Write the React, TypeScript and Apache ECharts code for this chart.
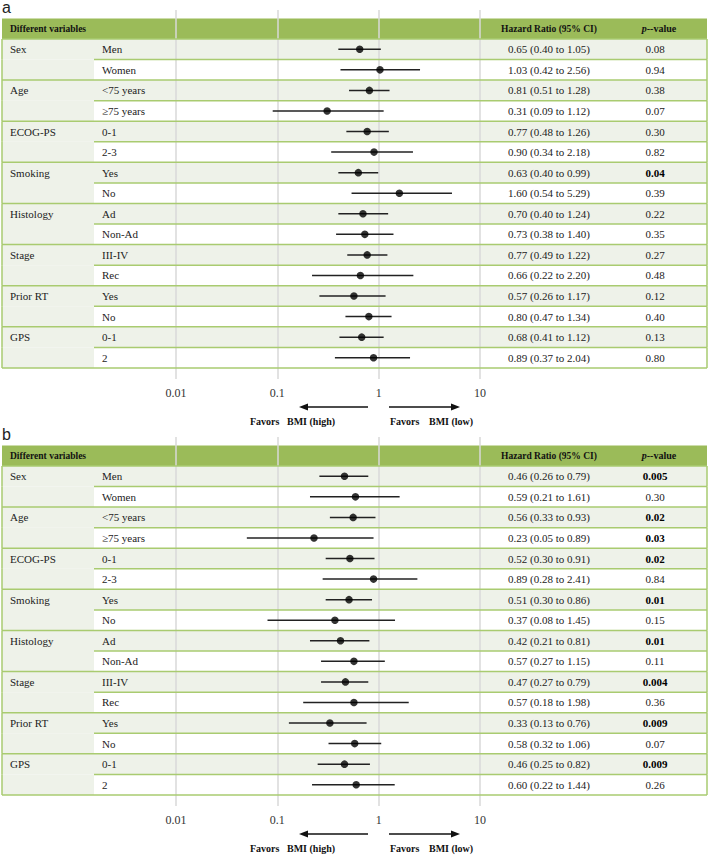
import React, { useEffect, useRef } from "react";
import * as echarts from "echarts";

// ---------- data ----------
const groups = ["Sex", "Age", "ECOG-PS", "Smoking", "Histology", "Stage", "Prior RT", "GPS"];
const subgroups = ["Men", "Women", "<75 years", "≥75 years", "0-1", "2-3", "Yes", "No", "Ad", "Non-Ad", "III-IV", "Rec", "Yes", "No", "0-1", "2"];

const hrA = [0.65, 1.03, 0.81, 0.31, 0.77, 0.90, 0.63, 1.60, 0.70, 0.73, 0.77, 0.66, 0.57, 0.80, 0.68, 0.89];
const lowA = [0.40, 0.42, 0.51, 0.09, 0.48, 0.34, 0.40, 0.54, 0.40, 0.38, 0.49, 0.22, 0.26, 0.47, 0.41, 0.37];
const highA = [1.05, 2.56, 1.28, 1.12, 1.26, 2.18, 0.99, 5.29, 1.24, 1.40, 1.22, 2.20, 1.17, 1.34, 1.12, 2.04];
const pA = ["0.08", "0.94", "0.38", "0.07", "0.30", "0.82", "0.04", "0.39", "0.22", "0.35", "0.27", "0.48", "0.12", "0.40", "0.13", "0.80"];

const hrB = [0.46, 0.59, 0.56, 0.23, 0.52, 0.89, 0.51, 0.37, 0.42, 0.57, 0.47, 0.57, 0.33, 0.58, 0.46, 0.60];
const lowB = [0.26, 0.21, 0.33, 0.05, 0.30, 0.28, 0.30, 0.08, 0.21, 0.27, 0.27, 0.18, 0.13, 0.32, 0.25, 0.22];
const highB = [0.79, 1.61, 0.93, 0.89, 0.91, 2.41, 0.86, 1.45, 0.81, 1.15, 0.79, 1.98, 0.76, 1.06, 0.82, 1.44];
const pB = ["0.005", "0.30", "0.02", "0.03", "0.02", "0.84", "0.01", "0.15", "0.01", "0.11", "0.004", "0.36", "0.009", "0.07", "0.009", "0.26"];

const tickValues = [0.01, 0.1, 1, 10];
const tickLabels = ["0.01", "0.1", "1", "10"];
const headerLabels = ["Different variables", "Hazard Ratio (95% CI)", "p--value"];
const panelLabels = ["a", "b"];
const favorWords = ["Favors", "BMI (high)", "Favors", "BMI (low)"];

// ---------- layout ----------
const TABLE_L = 2;
const TABLE_R = 707;
const SUB_X = 94;
const PLOT_L = 176;
const PLOT_R = 480;
const HR_CX = 549;
const P_CX = 657;
const ROW_H = 20.5625;
const PANEL_DY = 427;
const GRID_TOP = 10;
const Y_MIN = -1.41;
const Y_MAX = 16.535;
const GRID_H = (Y_MAX - Y_MIN) * ROW_H;

const GREEN = "#9BBB59";
const LINE_GREEN = "#A9CB70";
const LIGHT = "#EEF2E9";
const GRID_GREY = "#D9D9D9";
const SERIF = "'Liberation Serif', 'Times New Roman', serif";
const TXT = "#222";

type Panel = { hr: number[]; low: number[]; high: number[]; p: string[] };
const panels: Panel[] = [
  { hr: hrA, low: lowA, high: highA, p: pA },
  { hr: hrB, low: lowB, high: highB, p: pB },
];

const fmt = (v: number) => v.toFixed(2);

function groupOf(i: number) {
  return Math.floor(i / 2);
}

function buildPanel(k: number, d: Panel) {
  const rows = subgroups.map((_, i) => i);
  const bgData = [-1, ...rows].map((i) => [1, i]);

  const bgSeries = {
    type: "custom",
    xAxisIndex: k,
    yAxisIndex: k,
    z: 0,
    silent: true,
    data: bgData,
    renderItem: (params: any, api: any) => {
      const i = api.value(1);
      const top = api.coord([1, i])[1];
      const bot = api.coord([1, i + 1])[1];
      if (i < 0) {
        return {
          type: "rect",
          shape: { x: TABLE_L, y: top, width: TABLE_R - TABLE_L, height: bot - top },
          style: { fill: GREEN },
        };
      }
      return {
        type: "group",
        children: [
          { type: "rect", shape: { x: TABLE_L, y: top, width: SUB_X - TABLE_L, height: bot - top }, style: { fill: LIGHT } },
          {
            type: "rect",
            shape: { x: SUB_X, y: top, width: TABLE_R - SUB_X, height: bot - top },
            style: { fill: i % 2 === 0 ? LIGHT : "#ffffff" },
          },
        ],
      };
    },
  };

  const overlaySeries = {
    type: "custom",
    xAxisIndex: k,
    yAxisIndex: k,
    z: 3,
    silent: true,
    data: bgData,
    renderItem: (params: any, api: any) => {
      const i = api.value(1);
      const top = api.coord([1, i])[1];
      const bot = api.coord([1, i + 1])[1];
      const mid = (top + bot) / 2;
      const children: any[] = [];
      if (i < 0) {
        children.push({
          type: "text",
          style: { text: headerLabels[0], x: 10, y: mid, align: "left", verticalAlign: "middle", fill: "#111", fontFamily: SERIF, fontSize: 9.5, fontWeight: "bold" },
        });
        children.push({
          type: "text",
          style: { text: headerLabels[1], x: HR_CX, y: mid, align: "center", verticalAlign: "middle", fill: "#111", fontFamily: SERIF, fontSize: 9.5, fontWeight: "bold" },
        });
        children.push({
          type: "text",
          style: {
            text: "{i|" + headerLabels[2].slice(0, 1) + "}{n|" + headerLabels[2].slice(1) + "}",
            x: P_CX + 2,
            y: mid,
            align: "center",
            verticalAlign: "middle",
            fill: "#111",
            fontFamily: SERIF,
            fontSize: 10,
            fontWeight: "bold",
            rich: {
              i: { fontFamily: SERIF, fontSize: 10, fontWeight: "bold", fontStyle: "italic", fill: "#111" },
              n: { fontFamily: SERIF, fontSize: 10, fontWeight: "bold", fill: "#111" },
            },
          },
        });
        return { type: "group", children };
      }
      const first = i % 2 === 0;
      children.push({
        type: "line",
        shape: { x1: first ? TABLE_L : SUB_X, y1: top, x2: TABLE_R, y2: top },
        style: { stroke: LINE_GREEN, lineWidth: 1.5 },
      });
      if (i === subgroups.length - 1) {
        children.push({
          type: "line",
          shape: { x1: TABLE_L, y1: bot, x2: TABLE_R, y2: bot },
          style: { stroke: LINE_GREEN, lineWidth: 1.5 },
        });
      }
      children.push({ type: "line", shape: { x1: TABLE_L, y1: top, x2: TABLE_L, y2: bot }, style: { stroke: LINE_GREEN, lineWidth: 1.5 } });
      children.push({ type: "line", shape: { x1: TABLE_R, y1: top, x2: TABLE_R, y2: bot }, style: { stroke: LINE_GREEN, lineWidth: 1.5 } });
      if (first) {
        children.push({
          type: "text",
          style: { text: groups[groupOf(i)], x: 10, y: mid, align: "left", verticalAlign: "middle", fill: TXT, fontFamily: SERIF, fontSize: 11 },
        });
      }
      children.push({
        type: "text",
        style: { text: subgroups[i], x: 102, y: mid, align: "left", verticalAlign: "middle", fill: TXT, fontFamily: SERIF, fontSize: 11 },
      });
      children.push({
        type: "text",
        style: {
          text: `${fmt(d.hr[i])} (${fmt(d.low[i])} to ${fmt(d.high[i])})`,
          x: HR_CX,
          y: mid,
          align: "center",
          verticalAlign: "middle",
          fill: TXT,
          fontFamily: SERIF,
          fontSize: 11,
        },
      });
      const sig = parseFloat(d.p[i]) < 0.05;
      children.push({
        type: "text",
        style: {
          text: d.p[i],
          x: P_CX - 2,
          y: mid,
          align: "center",
          verticalAlign: "middle",
          fill: sig ? "#000" : TXT,
          fontFamily: SERIF,
          fontSize: 11,
          fontWeight: sig ? "bold" : "normal",
        },
      });
      return { type: "group", children };
    },
  };

  const ciSeries = {
    type: "custom",
    xAxisIndex: k,
    yAxisIndex: k,
    z: 4,
    silent: true,
    encode: { x: [0, 1], y: 2 },
    data: rows.map((i) => [d.low[i], d.high[i], i + 0.5]),
    renderItem: (params: any, api: any) => {
      const a = api.coord([api.value(0), api.value(2)]);
      const b = api.coord([api.value(1), api.value(2)]);
      return {
        type: "line",
        shape: { x1: a[0], y1: a[1], x2: b[0], y2: b[1] },
        style: { stroke: "#222", lineWidth: 1.5 },
      };
    },
  };

  const pointSeries = {
    type: "scatter",
    xAxisIndex: k,
    yAxisIndex: k,
    z: 5,
    silent: true,
    symbol: "circle",
    symbolSize: 7.5,
    itemStyle: { color: "#000" },
    data: rows.map((i) => [d.hr[i], i + 0.5]),
  };

  const grid = {
    left: PLOT_L,
    width: PLOT_R - PLOT_L,
    top: GRID_TOP + k * PANEL_DY,
    height: GRID_H,
    containLabel: false,
  };

  const xAxis = {
    gridIndex: k,
    type: "log",
    logBase: 10,
    min: tickValues[0],
    max: tickValues[tickValues.length - 1],
    z: 1,
    axisLine: { show: false },
    axisTick: { show: false },
    splitLine: { show: true, lineStyle: { color: GRID_GREY, width: 1.5 } },
    axisLabel: {
      margin: 8,
      fontFamily: SERIF,
      fontSize: 12,
      color: "#333",
      formatter: (v: number) => {
        const idx = tickValues.findIndex((t) => Math.abs(Math.log10(t) - Math.log10(v)) < 1e-6);
        return idx >= 0 ? tickLabels[idx] : "";
      },
    },
  };

  const yAxis = {
    gridIndex: k,
    type: "value",
    min: Y_MIN,
    max: Y_MAX,
    inverse: true,
    show: false,
  };

  return { grid, xAxis, yAxis, series: [bgSeries, overlaySeries, ciSeries, pointSeries] };
}

function buildGraphics() {
  const g: any[] = [];
  for (let k = 0; k < 2; k++) {
    const dy = k * PANEL_DY;
    g.push({
      type: "text",
      x: 2,
      y: 7 + dy,
      style: { text: panelLabels[k], fill: "#222", fontFamily: "'Liberation Sans', Arial, sans-serif", fontSize: 16, align: "left", verticalAlign: "middle" },
    });
    const ay = 407 + dy;
    g.push({ type: "line", shape: { x1: 306, y1: ay, x2: 368, y2: ay }, style: { stroke: "#111", lineWidth: 1.6 } });
    g.push({ type: "polygon", shape: { points: [[299, ay], [308, ay - 3.5], [308, ay + 3.5]] }, style: { fill: "#111" } });
    g.push({ type: "line", shape: { x1: 389, y1: ay, x2: 453, y2: ay }, style: { stroke: "#111", lineWidth: 1.6 } });
    g.push({ type: "polygon", shape: { points: [[460, ay], [451, ay - 3.5], [451, ay + 3.5]] }, style: { fill: "#111" } });
    const ty = 421 + dy;
    const xs = [250, 287, 390, 429];
    favorWords.forEach((w, j) => {
      g.push({
        type: "text",
        x: xs[j],
        y: ty,
        style: { text: w, fill: "#111", fontFamily: SERIF, fontSize: 10, fontWeight: "bold", align: "left", verticalAlign: "middle" },
      });
    });
  }
  return g;
}

export default function App() {
  const ref = useRef<HTMLDivElement>(null);
  useEffect(() => {
    if (!ref.current) return;
    const chart = echarts.init(ref.current, undefined, { renderer: "svg" });
    const pa = buildPanel(0, panels[0]);
    const pb = buildPanel(1, panels[1]);
    chart.setOption({
      animation: false,
      backgroundColor: "#ffffff",
      grid: [pa.grid, pb.grid],
      xAxis: [pa.xAxis, pb.xAxis],
      yAxis: [pa.yAxis, pb.yAxis],
      series: [...pa.series, ...pb.series],
      graphic: buildGraphics(),
    });
    return () => chart.dispose();
  }, []);
  return <div ref={ref} style={{ width: 709, height: 855, position: "absolute", left: 0, top: 0 }} />;
}
